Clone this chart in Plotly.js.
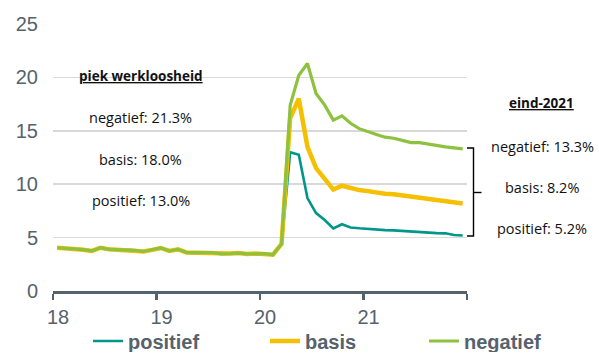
<!DOCTYPE html>
<html>
<head>
<meta charset="utf-8">
<script src="https://cdn.plot.ly/plotly-3.0.1.min.js"></script>
<style>
  html, body { margin: 0; padding: 0; background: #ffffff; }
  #chart { width: 598px; height: 352px; }
</style>
</head>
<body>
<div id="chart"></div>
<script>
// ---- data (monthly, Jan 2018 .. Dec 2021, unemployment %) ----
const seriesNames = ['positief', 'basis', 'negatief'];
const yearTicks = [18, 19, 20, 21, 22];
const yearLabels = ['18', '19', '20', '21', ''];

const positief = [
  4.05, 4.00, 3.96, 3.87, 3.75, 4.05, 3.90, 3.87, 3.80, 3.80, 3.70, 3.85,
  4.03, 3.75, 3.90, 3.60, 3.57, 3.60, 3.60, 3.47, 3.50, 3.55, 3.47, 3.50,
  3.50, 3.40, 4.40, 13.0, 12.75, 8.70, 7.30, 6.65, 5.85, 6.25, 5.95, 5.87,
  5.80, 5.75, 5.70, 5.68, 5.62, 5.57, 5.55, 5.47, 5.42, 5.40, 5.25, 5.20
];
const basis = [
  4.05, 4.00, 3.96, 3.87, 3.75, 4.05, 3.90, 3.87, 3.80, 3.80, 3.70, 3.85,
  4.03, 3.75, 3.90, 3.60, 3.57, 3.60, 3.60, 3.47, 3.50, 3.55, 3.47, 3.50,
  3.50, 3.40, 4.40, 16.2, 18.0, 13.5, 11.5, 10.55, 9.50, 9.86, 9.60, 9.45,
  9.35, 9.20, 9.10, 9.05, 8.95, 8.82, 8.72, 8.60, 8.57, 8.45, 8.30, 8.20
];
const negatief = [
  4.05, 4.00, 3.96, 3.87, 3.75, 4.05, 3.90, 3.87, 3.80, 3.80, 3.70, 3.85,
  4.03, 3.75, 3.90, 3.60, 3.57, 3.60, 3.60, 3.47, 3.50, 3.55, 3.47, 3.50,
  3.50, 3.40, 4.40, 17.4, 20.2, 21.3, 18.5, 17.4, 16.0, 16.4, 15.7, 15.2,
  14.9, 14.65, 14.4, 14.3, 14.1, 13.9, 13.9, 13.75, 13.6, 13.5, 13.4, 13.3
];

// ---- layout constants ----
const W = 598, H = 352;
const M = { l: 53, r: 131, t: 24, b: 61 };
const PW = W - M.l - M.r, PH = H - M.t - M.b;
const px = x => (x - M.l) / PW;          // pixel -> paper x
const py = y => (H - M.b - y) / PH;      // pixel -> paper y

const colors = { positief: '#00968a', basis: '#f5c000', negatief: '#8dc13f' };
const widths = { positief: 2.6, basis: 4.5, negatief: 3.2 };
const values = { positief, basis, negatief };

// month centres inside each year band
const x = positief.map((_, i) => yearTicks[0] + (i + 0.5) / 12);

const legendX = { positief: 88, basis: 265, negatief: 424 };
const legendIds = { positief: 'legend', basis: 'legend2', negatief: 'legend3' };

const traces = seriesNames.map(name => ({
  type: 'scatter',
  mode: 'lines',
  name: name,
  x: x,
  y: values[name],
  line: { color: colors[name], width: widths[name] },
  legend: legendIds[name],
  hoverinfo: 'x+y+name'
}));

const tickColor = '#56626c';
const legendFont = { family: 'Liberation Sans, Arial, sans-serif', size: 20, color: tickColor, weight: 'bold' };

function legendFor(name) {
  return {
    orientation: 'h',
    xref: 'container', yref: 'container',
    x: legendX[name] / W, xanchor: 'left',
    y: (H - 341) / H, yanchor: 'middle',
    font: legendFont,
    bgcolor: 'rgba(0,0,0,0)',
    borderwidth: 0,
    itemclick: false, itemdoubleclick: false
  };
}

const fmt = v => v.toFixed(1) + '%';
const peaks = seriesNames.map(n => Math.max(...values[n]));
const ends = seriesNames.map(n => values[n][values[n].length - 1]);

const noteFont = { family: 'Open Sans, Noto Sans, sans-serif', size: 14.5, color: '#111111' };
const headFont = { family: 'Open Sans, Noto Sans, sans-serif', size: 13.5, color: '#111111' };

function note(text, cx, cy, font) {
  return {
    xref: 'paper', yref: 'paper', x: px(cx), y: py(cy),
    xanchor: 'center', yanchor: 'middle',
    text: text, showarrow: false, font: font
  };
}

const annotations = [
  note('<b><u>piek werkloosheid</u></b>', 141, 76, headFont),
  note('negatief: ' + fmt(peaks[2]), 140.5, 118, noteFont),
  note('basis: ' + fmt(peaks[1]), 140.5, 159, noteFont),
  note('positief: ' + fmt(peaks[0]), 141, 200.5, noteFont),
  note('<b><u>eind-2021</u></b>', 541, 103, headFont),
  note('negatief: ' + fmt(ends[2]), 542, 146.5, noteFont),
  note('basis: ' + fmt(ends[1]), 542, 187.5, noteFont),
  note('positief: ' + fmt(ends[0]), 542, 228.5, noteFont)
];

// bracket "}" next to the end values
const bx0 = px(467), bx1 = px(473.5), bx2 = px(481.5);
const byTop = py(148), byMid = py(192.5), byBot = py(236);
const shapes = [
  {
    type: 'path', xref: 'paper', yref: 'paper',
    path: `M${bx0},${byTop} L${bx1},${byTop} L${bx1},${byBot} L${bx0},${byBot}`,
    line: { color: '#000000', width: 1.4 }
  },
  {
    type: 'line', xref: 'paper', yref: 'paper',
    x0: bx1, x1: bx2, y0: byMid, y1: byMid,
    line: { color: '#000000', width: 1.4 }
  }
];

const layout = {
  width: W, height: H,
  margin: M,
  paper_bgcolor: '#ffffff',
  plot_bgcolor: '#ffffff',
  showlegend: true,
  legend: legendFor('positief'),
  legend2: legendFor('basis'),
  legend3: legendFor('negatief'),
  xaxis: {
    range: [18, 22],
    tickvals: yearTicks,
    ticktext: yearLabels,
    ticks: 'outside', ticklen: 6, tickwidth: 2.2, tickcolor: tickColor,
    showline: true, linecolor: tickColor, linewidth: 2.6,
    showgrid: false, zeroline: false,
    ticklabelshift: 5,
    automargin: false,
    tickfont: { family: 'Liberation Sans, Arial, sans-serif', size: 20, color: tickColor },
    fixedrange: true
  },
  yaxis: {
    range: [0, 25],
    tickvals: [0, 5, 10, 15, 20, 25],
    showline: false, zeroline: false,
    showgrid: true, gridcolor: '#d9d9d9', gridwidth: 1.5,
    ticks: '', ticklabelstandoff: 14,
    automargin: false,
    tickfont: { family: 'Liberation Sans, Arial, sans-serif', size: 20, color: tickColor },
    fixedrange: true
  },
  annotations: annotations,
  shapes: shapes
};

Plotly.newPlot('chart', traces, layout, { displayModeBar: false, staticPlot: true });
</script>
</body>
</html>
